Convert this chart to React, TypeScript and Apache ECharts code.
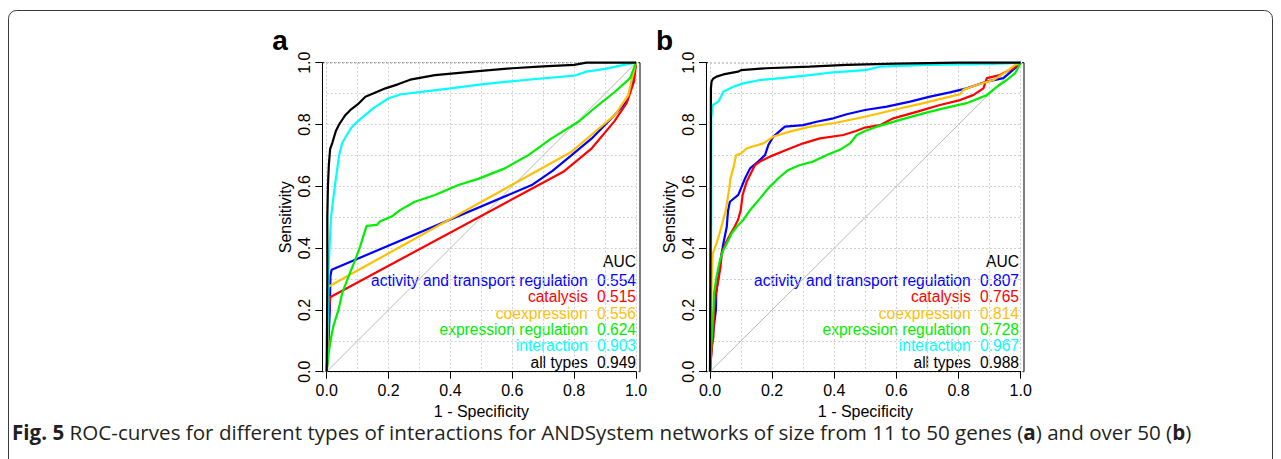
import React, { useEffect, useRef } from "react";
import * as echarts from "echarts";

// Curve labels, colours and AUC values (panel a: 11-50 genes, panel b: over 50 genes)
const curveNames = [
  "activity and transport regulation",
  "catalysis",
  "coexpression",
  "expression regulation",
  "interaction",
  "all types",
];
const curveColors = ["#0000ff", "#ff0000", "#ffc000", "#00ee00", "#00ffff", "#000000"];
const aucA = ["0.554", "0.515", "0.556", "0.624", "0.903", "0.949"];
const aucB = ["0.807", "0.765", "0.814", "0.728", "0.967", "0.988"];

// ROC points as [1 - specificity, sensitivity]
const activityA = [[0,0],[0.006,0.1],[0.01,0.2],[0.012,0.31],[0.016,0.33],[0.663,0.604],[0.73,0.65],[0.792,0.701],[0.857,0.755],[0.93,0.83],[0.97,0.875],[0.99,0.94],[1,1]];
const catalysisA = [[0,0],[0.005,0.1],[0.008,0.2],[0.011,0.241],[0.765,0.647],[0.857,0.723],[0.93,0.81],[0.97,0.87],[0.994,0.94],[1,1]];
const coexpressionA = [[0,0],[0.003,0.15],[0.005,0.275],[0.792,0.712],[0.86,0.77],[0.932,0.831],[0.975,0.895],[0.99,0.96],[1,1]];
const expressionA = [[0,0],[0.004,0.04],[0.011,0.092],[0.021,0.146],[0.038,0.2],[0.05,0.254],[0.07,0.307],[0.092,0.361],[0.108,0.405],[0.118,0.437],[0.129,0.472],[0.162,0.475],[0.172,0.486],[0.21,0.502],[0.237,0.523],[0.285,0.55],[0.35,0.572],[0.426,0.604],[0.49,0.624],[0.576,0.658],[0.652,0.701],[0.727,0.755],[0.814,0.809],[0.878,0.863],[0.932,0.906],[0.981,0.95],[1,1]];
const interactionA = [[0,0],[0.002,0.1],[0.004,0.2],[0.006,0.33],[0.01,0.42],[0.014,0.5],[0.025,0.59],[0.04,0.7],[0.05,0.74],[0.065,0.766],[0.08,0.79],[0.1,0.81],[0.15,0.852],[0.2,0.885],[0.24,0.898],[0.3,0.905],[0.4,0.917],[0.5,0.93],[0.64,0.944],[0.8,0.958],[0.84,0.971],[0.9,0.98],[0.96,0.993],[1,1]];
const allTypesA = [[0,0],[0.002,0.3],[0.002,0.5],[0.004,0.6],[0.007,0.67],[0.011,0.72],[0.018,0.74],[0.03,0.78],[0.04,0.8],[0.06,0.83],[0.08,0.85],[0.1,0.865],[0.125,0.89],[0.15,0.9],[0.19,0.917],[0.23,0.93],[0.27,0.945],[0.35,0.96],[0.49,0.973],[0.6,0.982],[0.7,0.988],[0.8,0.993],[0.84,1],[1,1]];

const activityB = [[0,0],[0.004,0.06],[0.008,0.11],[0.013,0.15],[0.019,0.2],[0.02,0.254],[0.027,0.307],[0.034,0.361],[0.043,0.415],[0.054,0.469],[0.058,0.52],[0.064,0.55],[0.091,0.572],[0.1,0.594],[0.113,0.626],[0.129,0.658],[0.155,0.68],[0.177,0.701],[0.188,0.734],[0.204,0.761],[0.241,0.793],[0.3,0.798],[0.343,0.809],[0.397,0.82],[0.44,0.833],[0.499,0.847],[0.569,0.858],[0.644,0.874],[0.708,0.89],[0.772,0.904],[0.826,0.917],[0.891,0.939],[0.944,0.95],[0.982,0.982],[1,1]];
const catalysisB = [[0,0],[0.006,0.08],[0.011,0.113],[0.013,0.2],[0.019,0.254],[0.027,0.297],[0.034,0.34],[0.038,0.383],[0.05,0.415],[0.067,0.448],[0.079,0.469],[0.09,0.491],[0.099,0.523],[0.105,0.572],[0.118,0.615],[0.134,0.647],[0.145,0.669],[0.161,0.68],[0.193,0.696],[0.247,0.718],[0.3,0.739],[0.354,0.755],[0.429,0.766],[0.47,0.779],[0.499,0.79],[0.547,0.798],[0.59,0.82],[0.665,0.841],[0.74,0.863],[0.805,0.879],[0.847,0.895],[0.88,0.917],[0.891,0.95],[0.933,0.96],[0.976,0.982],[1,1]];
const coexpressionB = [[0,0],[0.003,0.2],[0.006,0.318],[0.009,0.383],[0.021,0.415],[0.034,0.459],[0.051,0.523],[0.062,0.594],[0.066,0.626],[0.075,0.658],[0.084,0.701],[0.1,0.706],[0.118,0.723],[0.172,0.739],[0.204,0.761],[0.257,0.777],[0.322,0.793],[0.397,0.804],[0.499,0.825],[0.59,0.847],[0.687,0.869],[0.772,0.89],[0.805,0.898],[0.815,0.912],[0.858,0.928],[0.912,0.944],[0.955,0.971],[0.982,0.993],[1,1]];
const expressionB = [[0,0],[0.005,0.1],[0.011,0.2],[0.013,0.254],[0.021,0.307],[0.032,0.361],[0.043,0.394],[0.054,0.415],[0.07,0.448],[0.086,0.469],[0.107,0.491],[0.129,0.523],[0.134,0.529],[0.161,0.561],[0.188,0.594],[0.22,0.626],[0.252,0.653],[0.29,0.669],[0.332,0.68],[0.376,0.701],[0.418,0.718],[0.451,0.739],[0.472,0.766],[0.499,0.779],[0.537,0.793],[0.612,0.815],[0.687,0.836],[0.751,0.852],[0.826,0.869],[0.891,0.895],[0.923,0.922],[0.955,0.944],[0.982,0.966],[1,1]];
const interactionB = [[0,0],[0.004,0.5],[0.004,0.82],[0.009,0.863],[0.027,0.874],[0.043,0.906],[0.075,0.922],[0.107,0.933],[0.161,0.944],[0.236,0.951],[0.322,0.96],[0.397,0.969],[0.499,0.976],[0.547,0.987],[0.697,0.993],[0.912,0.996],[1,1]];
const allTypesB = [[0,0],[0.002,0.5],[0.003,0.917],[0.005,0.939],[0.01,0.948],[0.021,0.955],[0.043,0.962],[0.09,0.971],[0.1,0.976],[0.18,0.982],[0.32,0.987],[0.44,0.993],[0.6,0.997],[0.8,1],[1,1]];

const chanceLine = [[0,0],[1,1]];

const curvesA = [activityA, catalysisA, coexpressionA, expressionA, interactionA, allTypesA];
const curvesB = [activityB, catalysisB, coexpressionB, expressionB, interactionB, allTypesB];

const FONT = "'Liberation Sans', Arial, Helvetica, sans-serif";
const CAPTION_FONT = "'Open Sans', sans-serif";

// Plot boxes (grid = 0..1 range, box = frame drawn slightly wider on x)
const panels = [
  { letter: "a", left: 326.7, width: 309.3, boxL: 322.3, boxR: 640, nameR: 587.7, valR: 636, curves: curvesA, auc: aucA },
  { letter: "b", left: 710, width: 310.7, boxL: 706, boxR: 1024, nameR: 970.7, valR: 1019, curves: curvesB, auc: aucB },
];
const TOP = 62.7;
const HEIGHT = 309;
const BOTTOM = TOP + HEIGHT;

const gridLine = { color: "#cfcfcf", type: [2, 2] as any, width: 1 };

export default function App() {
  const ref = useRef<HTMLDivElement>(null);

  useEffect(() => {
    if (!ref.current) return;
    const chart = echarts.init(ref.current, undefined, { renderer: "svg" });

    const grids: any[] = [];
    const xAxes: any[] = [];
    const yAxes: any[] = [];
    const series: any[] = [];
    const graphics: any[] = [];

    panels.forEach((p, i) => {
      grids.push({ left: p.left, top: TOP, width: p.width, height: HEIGHT });
      xAxes.push({
        type: "value",
        gridIndex: i,
        min: 0,
        max: 1,
        interval: 0.2,
        axisLine: { show: true, onZero: false, lineStyle: { color: "#000", width: 1 } },
        axisTick: { show: true, length: 7, lineStyle: { color: "#000", width: 1 } },
        axisLabel: { fontSize: 16, color: "#000", margin: 11, fontFamily: FONT, formatter: (v: number) => v.toFixed(1) },
        splitLine: { show: true, lineStyle: gridLine },
        minorTick: { show: false, splitNumber: 2 },
        minorSplitLine: { show: true, lineStyle: gridLine },
        name: "1 - Specificity",
        nameLocation: "middle",
        nameGap: 30,
        nameTextStyle: { fontSize: 16, color: "#000", fontFamily: FONT },
      });
      yAxes.push({
        type: "value",
        gridIndex: i,
        min: 0,
        max: 1,
        interval: 0.2,
        offset: p.left - p.boxL,
        axisLine: { show: true, onZero: false, lineStyle: { color: "#000", width: 1 } },
        axisTick: { show: true, length: 7, lineStyle: { color: "#000", width: 1 } },
        axisLabel: { fontSize: 16, color: "#000", margin: 10, rotate: 90, fontFamily: FONT, formatter: (v: number) => v.toFixed(1) },
        splitLine: { show: true, lineStyle: gridLine },
        minorTick: { show: false, splitNumber: 2 },
        minorSplitLine: { show: true, lineStyle: gridLine },
        name: "Sensitivity",
        nameLocation: "middle",
        nameGap: 29,
        nameRotate: 90,
        nameTextStyle: { fontSize: 16, color: "#000", fontFamily: FONT },
      });

      series.push({
        type: "line",
        xAxisIndex: i,
        yAxisIndex: i,
        data: chanceLine,
        showSymbol: false,
        silent: true,
        clip: false,
        lineStyle: { color: "#b8b8b8", width: 1 },
      });
      p.curves.forEach((c, k) => {
        series.push({
          type: "line",
          name: curveNames[k],
          xAxisIndex: i,
          yAxisIndex: i,
          data: c,
          showSymbol: false,
          clip: false,
          lineStyle: { color: curveColors[k], width: 2.2 },
        });
      });

      // frame of the plot region
      graphics.push(
        { type: "line", silent: true, shape: { x1: p.boxL, y1: TOP, x2: p.boxR, y2: TOP }, style: { stroke: "#000", lineWidth: 1, lineDash: [2, 2] } },
        { type: "line", silent: true, shape: { x1: p.boxL, y1: BOTTOM, x2: p.boxR, y2: BOTTOM }, style: { stroke: "#555", lineWidth: 1, lineDash: [2, 2] } },
        { type: "line", silent: true, shape: { x1: p.boxR, y1: TOP, x2: p.boxR, y2: BOTTOM }, style: { stroke: "#000", lineWidth: 1 } }
      );

      // panel letter
      graphics.push({
        type: "text",
        silent: true,
        x: p.boxL - 50,
        y: 40,
        style: { text: p.letter, fontSize: 28, fontWeight: "bold", fontFamily: FONT, fill: "#000", align: "left", verticalAlign: "middle" },
      });

      // AUC legend
      const rowY = [280.5, 296.9, 313.2, 329.5, 345.9, 362.2];
      graphics.push({
        type: "text",
        silent: true,
        x: p.valR,
        y: 261.2,
        style: { text: "AUC", fontSize: 15.6, fontFamily: FONT, fill: "#000", align: "right", verticalAlign: "middle" },
      });
      curveNames.forEach((n, k) => {
        graphics.push({
          type: "text",
          silent: true,
          x: p.nameR,
          y: rowY[k],
          style: { text: n, fontSize: 15.6, fontFamily: FONT, fill: curveColors[k], align: "right", verticalAlign: "middle" },
        });
        graphics.push({
          type: "text",
          silent: true,
          x: p.valR,
          y: rowY[k],
          style: { text: p.auc[k], fontSize: 15.6, fontFamily: FONT, fill: curveColors[k], align: "right", verticalAlign: "middle" },
        });
      });
    });

    // outer figure frame and caption
    graphics.push({
      type: "rect",
      silent: true,
      shape: { x: 8.5, y: 10.5, width: 1264, height: 470, r: 8 },
      style: { fill: "none", stroke: "#3a3a3a", lineWidth: 1 },
    });
    graphics.push({
      type: "text",
      silent: true,
      x: 12,
      y: 432,
      style: {
        text: "{b|Fig. 5} ROC-curves for different types of interactions for ANDSystem networks of size from 11 to 50 genes ({b|a}) and over 50 ({b|b})",
        fontSize: 20.6,
        fontFamily: CAPTION_FONT,
        fill: "#231f20",
        align: "left",
        verticalAlign: "middle",
        rich: {
          b: { fontSize: 20.6, fontFamily: CAPTION_FONT, fontWeight: "bold", fill: "#231f20" },
        },
      },
    });

    chart.setOption({
      animation: false,
      textStyle: { fontFamily: FONT },
      grid: grids,
      xAxis: xAxes,
      yAxis: yAxes,
      series,
      graphic: { elements: graphics },
    });

    return () => chart.dispose();
  }, []);

  return (
    <div
      ref={ref}
      style={{ position: "absolute", left: 0, top: 0, width: 1281, height: 459, background: "#fff" }}
    />
  );
}
